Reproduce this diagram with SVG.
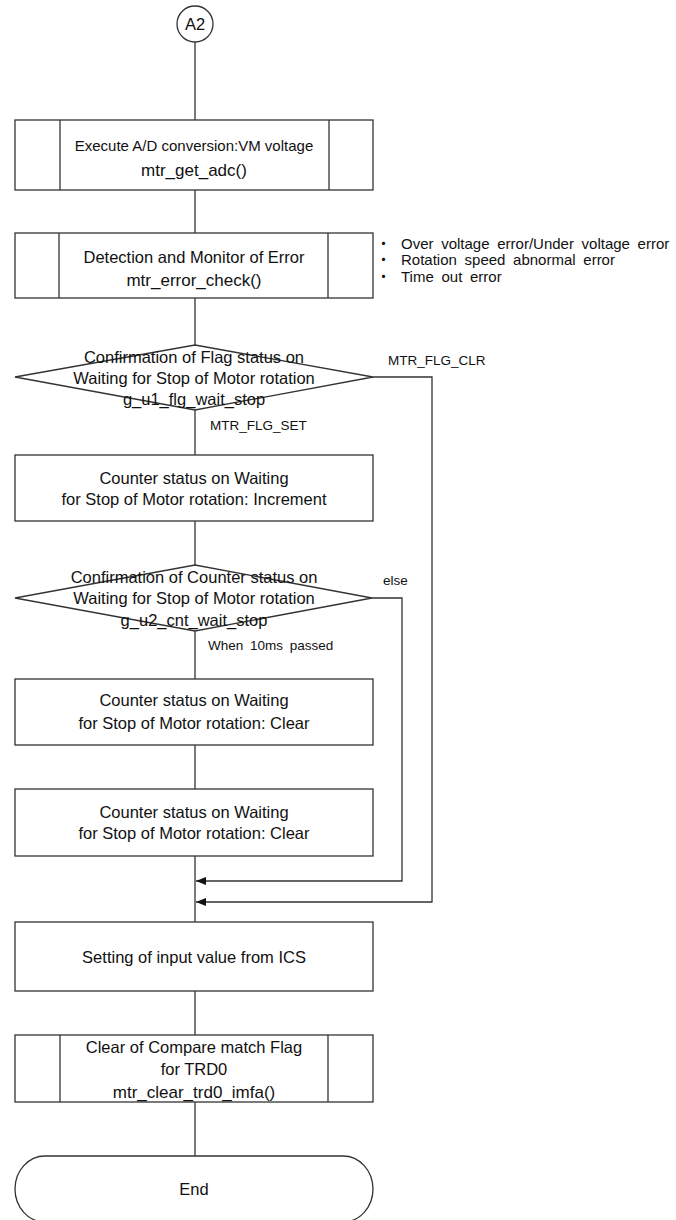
<svg xmlns="http://www.w3.org/2000/svg" width="676" height="1220" viewBox="0 0 676 1220">
  <style>
    .shape { fill: #ffffff; stroke: #333333; stroke-width: 1.3; }
    .edge { fill: none; stroke: #333333; stroke-width: 1.3; }
    .t { font-family: "Liberation Sans", Arial, sans-serif; font-size: 16.5px; fill: #111111; text-anchor: middle; }
    .small { font-size: 15px; }
    .code { font-size: 17px; }
    .lbl { font-family: "Liberation Sans", Arial, sans-serif; font-size: 13.5px; fill: #111111; }
    .note { font-family: "Liberation Sans", Arial, "Noto Sans CJK JP", sans-serif; font-size: 15px; fill: #111111; word-spacing: 3.5px; }
  </style>
  <defs>
    <marker id="arrow" viewBox="0 0 10 8" refX="10" refY="4" markerWidth="10" markerHeight="8" markerUnits="userSpaceOnUse" orient="auto">
      <path d="M0,0 L10,4 L0,8 Z" fill="#111111"/>
    </marker>
  </defs>

  <rect width="676" height="1220" fill="#ffffff"/>

  <!-- connectors -->
  <g id="connectors">
    <line class="edge" x1="195" y1="42" x2="195" y2="120"/>
    <line class="edge" x1="195" y1="190" x2="195" y2="233"/>
    <line class="edge" x1="195" y1="298" x2="195" y2="345"/>
    <line class="edge" x1="195" y1="410" x2="195" y2="455"/>
    <line class="edge" x1="195" y1="521" x2="195" y2="565"/>
    <line class="edge" x1="195" y1="631" x2="195" y2="679"/>
    <line class="edge" x1="195" y1="745" x2="195" y2="789"/>
    <line class="edge" x1="195" y1="856" x2="195" y2="922"/>
    <line class="edge" x1="195" y1="991" x2="195" y2="1035"/>
    <line class="edge" x1="195" y1="1102" x2="195" y2="1156"/>
    <!-- branch "else" of the counter check -->
    <polyline class="edge" points="372,598 402,598 402,881 196,881" marker-end="url(#arrow)"/>
    <!-- branch MTR_FLG_CLR of the flag check -->
    <polyline class="edge" points="373,377 432,377 432,902 196,902" marker-end="url(#arrow)"/>
    <text class="lbl" x="388" y="365">MTR_FLG_CLR</text>
    <text class="lbl" x="210" y="430">MTR_FLG_SET</text>
    <text class="lbl" x="383" y="585">else</text>
    <text class="lbl" x="208" y="650" word-spacing="3">When 10ms passed</text>
  </g>

  <g id="start-A2">
    <circle class="shape" cx="195" cy="24" r="18"/>
    <text class="t" x="195" y="30">A2</text>
  </g>

  <g id="adc">
    <rect class="shape" x="15" y="120" width="358" height="70"/>
    <line class="edge" x1="60" y1="120" x2="60" y2="190"/>
    <line class="edge" x1="329" y1="120" x2="329" y2="190"/>
    <text class="t small" x="194" y="151">Execute A/D conversion:VM voltage</text>
    <text class="t code" x="194" y="176">mtr_get_adc()</text>
  </g>

  <g id="error-check">
    <rect class="shape" x="15" y="233" width="358" height="65"/>
    <line class="edge" x1="59" y1="233" x2="59" y2="298"/>
    <line class="edge" x1="328" y1="233" x2="328" y2="298"/>
    <text class="t" x="194" y="263">Detection and Monitor of Error</text>
    <text class="t code" x="194" y="286">mtr_error_check()</text>
  </g>

  <g id="error-notes">
    <text class="note" x="376" y="248.5">・<tspan dx="10">Over voltage error/Under voltage error</tspan></text>
    <text class="note" x="376" y="265">・<tspan dx="10">Rotation speed abnormal error</tspan></text>
    <text class="note" x="376" y="281.5">・<tspan dx="10">Time out error</tspan></text>
  </g>

  <g id="flag-check">
    <polygon class="shape" points="195,345 373,377 195,410 15,377"/>
    <text class="t" x="194" y="363">Confirmation of Flag status on</text>
    <text class="t" x="194" y="384">Waiting for Stop of Motor rotation</text>
    <text class="t" x="194" y="405">g_u1_flg_wait_stop</text>
  </g>

  <g id="counter-increment">
    <rect class="shape" x="15" y="455" width="358" height="66"/>
    <text class="t" x="194" y="484">Counter status on Waiting</text>
    <text class="t" x="194" y="505">for Stop of Motor rotation: Increment</text>
  </g>

  <g id="counter-check">
    <polygon class="shape" points="195,565 372,598 195,631 15,598"/>
    <text class="t" x="194" y="583">Confirmation of Counter status on</text>
    <text class="t" x="194" y="604">Waiting for Stop of Motor rotation</text>
    <text class="t" x="194" y="626">g_u2_cnt_wait_stop</text>
  </g>

  <g id="counter-clear-1">
    <rect class="shape" x="15" y="679" width="358" height="66"/>
    <text class="t" x="194" y="706">Counter status on Waiting</text>
    <text class="t" x="194" y="729">for Stop of Motor rotation: Clear</text>
  </g>

  <g id="counter-clear-2">
    <rect class="shape" x="15" y="789" width="358" height="67"/>
    <text class="t" x="194" y="818">Counter status on Waiting</text>
    <text class="t" x="194" y="839">for Stop of Motor rotation: Clear</text>
  </g>

  <g id="ics-input">
    <rect class="shape" x="15" y="922" width="358" height="69"/>
    <text class="t" x="194" y="963">Setting of input value from ICS</text>
  </g>

  <g id="clear-imfa">
    <rect class="shape" x="15" y="1035" width="358" height="67"/>
    <line class="edge" x1="60" y1="1035" x2="60" y2="1102"/>
    <line class="edge" x1="328" y1="1035" x2="328" y2="1102"/>
    <text class="t" x="194" y="1053">Clear of Compare match Flag</text>
    <text class="t" x="194" y="1075">for TRD0</text>
    <text class="t code" x="194" y="1098">mtr_clear_trd0_imfa()</text>
  </g>

  <g id="end">
    <path class="shape" d="M45,1156 H343 A30,33 0 0 1 343,1222 H45 A30,33 0 0 1 45,1156 Z"/>
    <text class="t" x="194" y="1195">End</text>
  </g>
</svg>
